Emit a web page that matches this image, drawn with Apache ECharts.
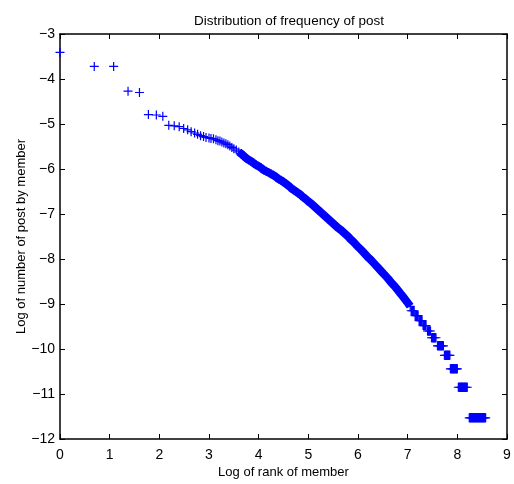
<!DOCTYPE html>
<html>
<head>
<meta charset="utf-8">
<script src="https://cdn.jsdelivr.net/npm/echarts@6/dist/echarts.min.js"></script>
<style>
  html, body { margin: 0; padding: 0; background: #fff; }
  #chart { width: 514px; height: 484px; }
</style>
</head>
<body>
<div id="chart"></div>
<script>
var myChart = echarts.init(document.getElementById('chart'));

// sparse top ranks (single markers)
var headX = [0, 0.69, 1.08, 1.37, 1.6, 1.78, 1.94, 2.07, 2.19, 2.3, 2.4, 2.49, 2.57, 2.64, 2.71, 2.77,
    2.83, 2.89, 2.94, 3.0, 3.04, 3.09, 3.14, 3.18, 3.22, 3.26, 3.3, 3.34, 3.38, 3.42, 3.46, 3.5, 3.55];
var headY = [-3.41, -3.72, -3.72, -4.27, -4.3, -4.79, -4.8, -4.83, -5.03, -5.04, -5.06, -5.1, -5.13, -5.17, -5.2, -5.23,
    -5.26, -5.28, -5.3, -5.31, -5.32, -5.33, -5.35, -5.37, -5.38, -5.4, -5.42, -5.44, -5.46, -5.49, -5.52, -5.55, -5.58];

// dense middle part (markers overlap into a band)
var bandX = [3.6, 3.65, 3.7, 3.75, 3.8, 3.85, 3.9, 3.95, 4.0, 4.05, 4.1, 4.15, 4.2, 4.25, 4.3, 4.35, 4.4, 4.45,
    4.5, 4.55, 4.6, 4.65, 4.7, 4.75, 4.8, 4.85, 4.9, 4.95, 5.0, 5.05, 5.1, 5.15, 5.2, 5.25, 5.3, 5.35, 5.4, 5.45,
    5.5, 5.55, 5.6, 5.65, 5.7, 5.75, 5.8, 5.85, 5.9, 5.95, 6.0, 6.05, 6.1, 6.15, 6.2, 6.25, 6.3, 6.35, 6.4, 6.45,
    6.5, 6.55, 6.6, 6.65, 6.7, 6.75, 6.8, 6.85, 6.9, 6.95, 7.0, 7.05];
var bandY = [-5.62, -5.66, -5.71, -5.76, -5.8, -5.83, -5.87, -5.91, -5.94, -5.98, -6.02, -6.05, -6.08, -6.11, -6.14, -6.18, -6.22, -6.25,
    -6.29, -6.33, -6.37, -6.42, -6.46, -6.5, -6.54, -6.58, -6.63, -6.67, -6.72, -6.76, -6.81, -6.86, -6.91, -6.96, -7.01, -7.06, -7.11, -7.16,
    -7.21, -7.26, -7.31, -7.35, -7.4, -7.45, -7.5, -7.56, -7.61, -7.67, -7.73, -7.78, -7.84, -7.9, -7.96, -8.01, -8.07, -8.13, -8.19, -8.25,
    -8.31, -8.37, -8.43, -8.5, -8.56, -8.62, -8.69, -8.76, -8.83, -8.9, -8.97, -9.05];

// tail: members with few posts, same y over a range of ranks
var tailLevels = [-9.15, -9.26, -9.37, -9.48, -9.6, -9.75, -9.93, -10.14, -10.44, -10.85, -11.53];
var tailSpans = [
    [7.07, 7.1, 7.13],
    [7.15, 7.18, 7.21],
    [7.23, 7.26, 7.29],
    [7.31, 7.34, 7.37],
    [7.4, 7.43, 7.46],
    [7.48, 7.51, 7.54, 7.57],
    [7.6, 7.63, 7.66, 7.69, 7.72],
    [7.74, 7.77, 7.8, 7.83, 7.85],
    [7.86, 7.89, 7.92, 7.95, 7.98, 8.0],
    [8.02, 8.05, 8.08, 8.11, 8.14, 8.17, 8.2],
    [8.24, 8.27, 8.3, 8.33, 8.36, 8.39, 8.42, 8.45, 8.48, 8.51, 8.54, 8.57]
];

var xTicks = [0, 1, 2, 3, 4, 5, 6, 7, 8, 9];
var yTicks = [-12, -11, -10, -9, -8, -7, -6, -5, -4, -3];

function zip(xs, ys) {
    return xs.map(function (x, i) { return [x, ys[i]]; });
}
var headData = zip(headX, headY);
var bandData = zip(bandX, bandY);
var tailData = [];
var tailBars = [];   // one solid run per level, broken with '-'
tailLevels.forEach(function (y, i) {
    tailSpans[i].forEach(function (x) { tailData.push([x, y]); });
    tailBars.push([tailSpans[i][0], y]);
    tailBars.push([tailSpans[i][tailSpans[i].length - 1], y]);
    tailBars.push(['-', '-']);
});

var plus = 'path://M0,3.9 H9 V5.1 H0 Z M3.9,0 H5.1 V9 H3.9 Z';
var blue = '#0000ff';
var font = 'Liberation Sans, Arial, Helvetica, sans-serif';

function minusFmt(v) {
    return String(v).replace('-', '\u2212');
}

var axisLine = { show: true, onZero: false, lineStyle: { color: '#000', width: 1.5 } };
var tick = { show: true, inside: true, length: 5, lineStyle: { color: '#000', width: 1 } };

var option = {
    animation: false,
    backgroundColor: '#fff',
    title: {
        text: 'Distribution of frequency of post',
        left: 284,
        top: 9,
        textAlign: 'center',
        textStyle: { fontFamily: font, fontSize: 13.5, fontWeight: 'normal', color: '#000' }
    },
    grid: { left: 60, right: 7, top: 34, bottom: 43, containLabel: false },
    xAxis: [{
        type: 'value', position: 'bottom', min: xTicks[0], max: xTicks[xTicks.length - 1], interval: 1,
        name: 'Log of rank of member', nameLocation: 'middle', nameGap: 27, nameMoveOverlap: false,
        nameTextStyle: { fontFamily: font, fontSize: 13, color: '#000' },
        axisLine: axisLine, axisTick: tick, splitLine: { show: false },
        axisLabel: { margin: 9, fontFamily: font, fontSize: 14, color: '#000', formatter: minusFmt }
    }, {
        type: 'value', position: 'top', min: xTicks[0], max: xTicks[xTicks.length - 1], interval: 1,
        axisLine: axisLine, axisTick: tick, splitLine: { show: false },
        axisLabel: { show: false }
    }],
    yAxis: [{
        type: 'value', position: 'left', min: yTicks[0], max: yTicks[yTicks.length - 1], interval: 1,
        name: 'Log of number of post by member', nameLocation: 'middle', nameGap: 32, nameRotate: 90,
        nameMoveOverlap: false,
        nameTextStyle: { fontFamily: font, fontSize: 13, color: '#000' },
        axisLine: axisLine, axisTick: tick, splitLine: { show: false },
        axisLabel: { margin: 5, fontFamily: font, fontSize: 14, color: '#000', formatter: minusFmt }
    }, {
        type: 'value', position: 'right', min: yTicks[0], max: yTicks[yTicks.length - 1], interval: 1,
        axisLine: axisLine, axisTick: tick, splitLine: { show: false },
        axisLabel: { show: false }
    }],
    series: [{
        type: 'scatter',
        data: headData,
        symbol: plus, symbolSize: 9,
        itemStyle: { color: blue, opacity: 1 }
    }, {
        type: 'line',
        data: bandData,
        symbol: plus, symbolSize: 9, showSymbol: true, showAllSymbol: true,
        lineStyle: { color: blue, width: 8 },
        itemStyle: { color: blue }
    }, {
        type: 'line',
        data: tailBars,
        showSymbol: false, connectNulls: false,
        lineStyle: { color: blue, width: 9.5, cap: 'butt' }
    }, {
        type: 'scatter',
        data: tailData,
        symbol: plus, symbolSize: 9,
        itemStyle: { color: blue, opacity: 1 }
    }]
};

myChart.setOption(option);
</script>
</body>
</html>
